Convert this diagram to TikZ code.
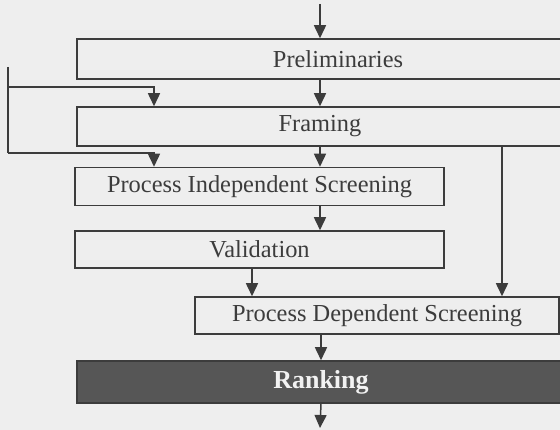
\documentclass[tikz,border=0pt]{standalone}
\usepackage{fontspec}
\setmainfont{Liberation Serif}
\usetikzlibrary{arrows.meta}
\definecolor{paper}{HTML}{EEEEEE}
\definecolor{ink}{HTML}{3C3C3C}
\definecolor{dark}{HTML}{565656}
\definecolor{lighttext}{HTML}{F2F2F2}
\tikzset{
  stage/.style={draw=ink, line width=1.5pt, fill=paper, rectangle, inner sep=0pt,
    text=ink, font=\fontsize{24.4}{27}\selectfont},
  darkstage/.style={stage, fill=dark, text=lighttext, font=\fontsize{26}{29}\selectfont\bfseries},
  flow/.style={draw=ink, line width=1.5pt, -{Triangle[width=12pt,length=13pt]}},
  wire/.style={draw=ink, line width=1.5pt}
}
\begin{document}
\begin{tikzpicture}[x=1pt,y=-1pt]
  \fill[paper] (0,0) rectangle (560,430);
  \useasboundingbox (0,0) rectangle (560,430);
  \clip (0,0) rectangle (560,430);

  % stages, top to bottom
  \node[stage, minimum width=522pt, minimum height=40pt] (prelim) at (338,59) {Preliminaries};
  \node[stage, minimum width=486pt, minimum height=39pt] (framing) at (320,126.5) {Framing};
  \node[stage, minimum width=369pt, minimum height=38pt] (pis) at (259.5,186.5) {Process Independent Screening};
  \node[stage, minimum width=369pt, minimum height=37pt] (valid) at (259.5,249.5) {Validation};
  \node[stage, minimum width=364pt, minimum height=37pt] (pds) at (377,315.5) {Process Dependent Screening};
  \node[darkstage, minimum width=488pt, minimum height=42pt] (rank) at (321,382) {Ranking};

  % free ends and bends
  \coordinate (in) at (320,4);
  \coordinate (out) at (320,428);
  \coordinate (loopTop) at (8,67);
  \coordinate (loopA) at (8,87);
  \coordinate (loopB) at (8,153);
  \coordinate (dropA) at (154,87);
  \coordinate (dropB) at (154,153);
  \coordinate (rightDrop) at (502,146);
  \coordinate (validDrop) at (252,268);

  % main flow
  \draw[flow] (in) -- (in |- prelim.north);
  \draw[flow] (prelim.south -| in) -- (framing.north);
  \draw[flow] (framing.south) -- (framing.south |- pis.north);
  \draw[flow] (pis.south -| framing.south) -- (valid.north -| framing.south);
  \draw[flow] (validDrop) -- (validDrop |- pds.north);
  \draw[flow] (pds.south -| rank.north) -- (rank.north);
  \draw[flow] (rank.south) -- (out);

  % side branches
  \draw[flow] (framing.south -| rightDrop) -- (rightDrop |- pds.north);
  \draw[wire] (loopTop) -- (loopB);
  \draw[flow] (loopA) -- (dropA) -- (dropA |- framing.north);
  \draw[flow] (loopB) -- (dropB) -- (dropB |- pis.north);
\end{tikzpicture}
\end{document}
